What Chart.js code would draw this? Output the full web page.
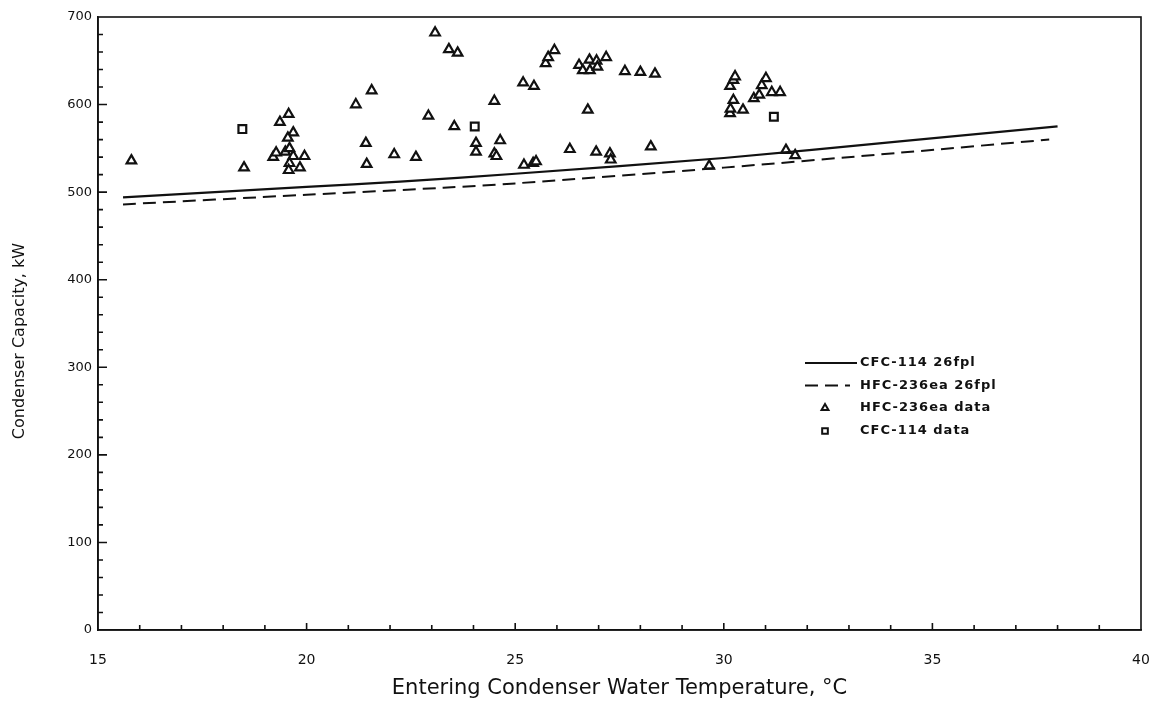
<!DOCTYPE html>
<html>
<head>
<meta charset="utf-8">
<title>Condenser Capacity</title>
<script src="https://cdn.jsdelivr.net/npm/chart.js@4.4.0/dist/chart.umd.min.js"></script>
<style>
  html, body { margin: 0; padding: 0; background: #fff; }
</style>
</head>
<body>
<canvas id="myChart" width="1165" height="703"></canvas>
<script>
// HFC-236ea measured points
var hfcTemp = [15.8, 18.5, 19.36, 19.57, 19.68, 19.55, 19.2, 19.27, 19.49, 19.59, 19.68, 19.95, 19.59, 19.57, 19.84,
  21.18, 21.56, 21.42, 21.44, 22.1, 22.62, 22.92, 23.08, 23.41, 23.62, 23.54, 24.06, 24.06, 24.5, 24.64, 24.5, 24.55,
  25.19, 25.45, 25.21, 25.43, 25.5, 25.73, 25.79, 25.94, 26.53, 26.62, 26.78, 26.79, 26.95, 26.97, 27.18, 27.63, 28.0, 28.35,
  26.74, 26.31, 26.94, 27.27, 27.29, 28.25, 29.65, 30.15, 30.23, 30.27, 30.15, 30.16, 30.23, 30.46, 30.72, 30.85, 30.91,
  31.01, 31.15, 31.35, 31.49, 31.71];
var hfcCap = [536, 528, 580, 589, 568, 562, 540, 545, 546, 550, 541, 541, 533, 525, 528,
  600, 616, 556, 532, 543, 540, 587, 682, 663, 659, 575, 556, 546, 604, 559, 544, 541,
  625, 621, 531, 533, 535, 647, 654, 662, 645, 639, 651, 639, 650, 643, 654, 638, 637, 635,
  594, 549, 546, 544, 537, 552, 530, 621, 628, 632, 590, 595, 605, 594, 607, 611, 622,
  630, 614, 614, 548, 542];

// CFC-114 measured points
var cfcTemp = [18.46, 24.03, 31.2];
var cfcCap = [572, 575, 586];

// model curves at 26 fins per inch
var cfcLineTemp = [15.6, 20, 22.24, 25, 30, 34.22, 38];
var cfcLineCap = [494, 506, 512, 521, 539, 558, 575];
var hfcLineTemp = [15.6, 20, 23.28, 25, 30, 34.22, 37.8];
var hfcLineCap = [486, 497, 505, 510, 528, 545, 560];

var yTitle = 'Condenser Capacity, kW';
var xTitle = 'Entering Condenser Water Temperature, °C';

function toPoints(xs, ys) {
  var pts = [];
  for (var i = 0; i < xs.length; i++) {
    pts.push({x: xs[i], y: ys[i]});
  }
  return pts;
}

var labelFont = 'DejaVu Sans';

// plot frame plus inward minor ticks on both axes
var frameAndTicks = {
  id: 'frameAndTicks',
  afterDatasetsDraw: function(chart) {
    var c = chart.ctx, a = chart.chartArea;
    var xs = chart.scales.x, ys = chart.scales.y;
    c.save();
    c.strokeStyle = '#111';
    c.lineWidth = 1.6;
    c.strokeRect(a.left, a.top, a.right - a.left, a.bottom - a.top);
    c.beginPath();
    for (var t = 16; t < 40; t++) {
      var px = xs.getPixelForValue(t);
      var len = (t % 5 == 0) ? 7 : 5;
      c.moveTo(px, a.bottom);
      c.lineTo(px, a.bottom - len);
    }
    for (var v = 20; v < 700; v += 20) {
      var py = ys.getPixelForValue(v);
      var len2 = (v % 100 == 0) ? 9 : 5;
      c.moveTo(a.left, py);
      c.lineTo(a.left + len2, py);
    }
    c.stroke();

    // y axis title, a little below the middle of the axis
    c.fillStyle = '#111';
    c.font = '16px "' + labelFont + '"';
    c.textAlign = 'center';
    c.textBaseline = 'middle';
    c.translate(20, 341);
    c.rotate(-Math.PI / 2);
    c.fillText(yTitle, 0, 0);
    c.restore();
  }
};

// legend sits inside the plot, lower right
var insideLegend = {
  id: 'insideLegend',
  afterDraw: function(chart) {
    var c = chart.ctx;
    var sets = chart.data.datasets;
    var rows = [363, 385.5, 408, 431];
    c.save();
    c.fillStyle = '#111';
    c.strokeStyle = '#111';
    c.font = 'bold 13px "' + labelFont + '"';
    c.letterSpacing = '1px';
    c.textBaseline = 'middle';
    for (var i = 0; i < sets.length; i++) {
      var ds = sets[i];
      var y = rows[i];
      if (ds.showLine) {
        c.lineWidth = ds.borderWidth;
        c.setLineDash(ds.borderDash || []);
        c.beginPath();
        c.moveTo(805, y);
        c.lineTo(ds.borderDash ? 850 : 857, y);
        c.stroke();
        c.setLineDash([]);
      } else {
        c.fillStyle = '#fff';
        Chart.helpers.drawPoint(c, {pointStyle: ds.pointStyle, radius: 4, rotation: 0, borderWidth: 2}, 825, y);
        c.fillStyle = '#111';
      }
      c.fillText(ds.label, 860, y);
    }
    c.restore();
  }
};

var ctx = document.getElementById('myChart');
var myChart = new Chart(ctx, {
  type: 'scatter',
  data: {
    datasets: [{
      label: 'CFC-114 26fpl',
      data: toPoints(cfcLineTemp, cfcLineCap),
      showLine: true,
      borderColor: '#111',
      borderWidth: 2.2,
      pointRadius: 0,
      tension: 0.3
    }, {
      label: 'HFC-236ea 26fpl',
      data: toPoints(hfcLineTemp, hfcLineCap),
      showLine: true,
      borderColor: '#111',
      borderWidth: 2,
      borderDash: [13, 7],
      pointRadius: 0,
      tension: 0.3
    }, {
      label: 'HFC-236ea data',
      data: toPoints(hfcTemp, hfcCap),
      pointStyle: 'triangle',
      pointRadius: 5.5,
      borderWidth: 2.2,
      borderColor: '#111',
      backgroundColor: '#fff'
    }, {
      label: 'CFC-114 data',
      data: toPoints(cfcTemp, cfcCap),
      pointStyle: 'rect',
      pointRadius: 5.5,
      borderWidth: 2.2,
      borderColor: '#111',
      backgroundColor: '#fff'
    }]
  },
  options: {
    responsive: false,
    animation: false,
    layout: {padding: {left: 0, right: 24, top: 17, bottom: 0}},
    plugins: {
      legend: {display: false},
      tooltip: {enabled: false}
    },
    scales: {
      x: {
        type: 'linear',
        min: 15,
        max: 40,
        afterFit: function(scale) {
          scale.height = 73;
          // the big label padding should not squeeze the plot sideways
          scale.paddingLeft = 10;
          scale.paddingRight = 10;
        },
        grid: {display: false, drawTicks: false},
        border: {display: true, color: '#111', width: 1.6},
        ticks: {stepSize: 5, padding: 22, color: '#111', font: {family: labelFont, size: 14}},
        title: {
          display: true,
          text: xTitle,
          color: '#111',
          font: {family: labelFont, size: 21},
          padding: {top: 0, bottom: 2}
        }
      },
      y: {
        min: 0,
        max: 700,
        afterFit: function(scale) { scale.width = 98; },
        grid: {display: false, drawTicks: false},
        border: {display: true, color: '#111', width: 1.6},
        ticks: {stepSize: 100, padding: 6, color: '#111', font: {family: labelFont, size: 13}}
      }
    }
  },
  plugins: [frameAndTicks, insideLegend]
});
</script>
</body>
</html>
